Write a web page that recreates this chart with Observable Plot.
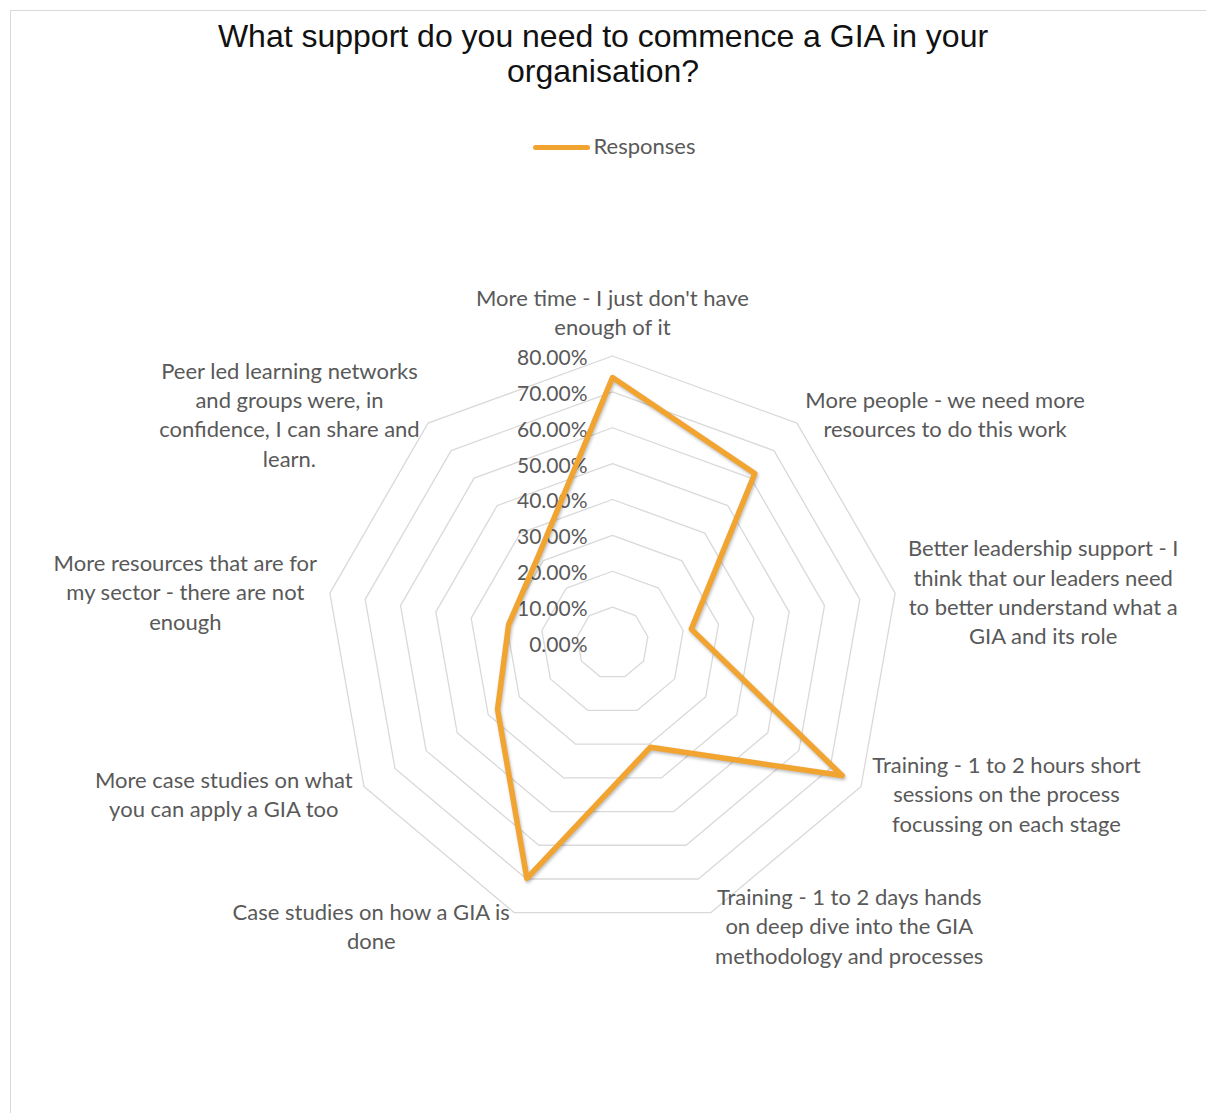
<!DOCTYPE html>
<html>
<head>
<meta charset="utf-8">
<script src="https://cdn.jsdelivr.net/npm/d3@7"></script>
<script src="https://cdn.jsdelivr.net/npm/@observablehq/plot@0.6"></script>
<style>
  body { margin: 0; background: #fff; }
  #wrap { position: relative; width: 1206px; height: 1113px; overflow: hidden; background: #fff; }
  #border { position: absolute; left: 10px; top: 10px; width: 1400px; height: 1400px; border: 1px solid #d9d9d9; box-sizing: border-box; pointer-events: none; }
  #head { position: relative; height: 170px; }
  #title { position: absolute; left: 0; top: 19px; width: 1206px; text-align: center; white-space: pre-line;
           font-family: "Liberation Sans", Arial, sans-serif; font-size: 32px; line-height: 35px; color: #111; }
  #legend { position: absolute; left: 11px; top: 131px; width: 1206px; text-align: center;
            font-family: Lato, sans-serif; font-size: 22px; line-height: 30px; color: #595959; }
  #legend .sw { display: inline-block; width: 57px; height: 5.5px; border-radius: 3px; vertical-align: middle; margin-right: 4px; position: relative; top: -1px; }
  #chart { position: relative; }
</style>
</head>
<body>
<div id="wrap">
  <div id="border"></div>
  <div id="head">
    <div id="title"></div>
    <div id="legend"></div>
  </div>
  <div id="chart"></div>
</div>
<script>
const titleText = "What support do you need to commence a GIA in your\norganisation?";
const seriesName = "Responses";
const categories = [
  "More time - I just don't have\nenough of it",
  "More people - we need more\nresources to do this work",
  "Better leadership support - I\nthink that our leaders need\nto better understand what a\nGIA and its role",
  "Training - 1 to 2 hours short\nsessions on the process\nfocussing on each stage",
  "Training - 1 to 2 days hands\non deep dive into the GIA\nmethodology and processes",
  "Case studies on how a GIA is\ndone",
  "More case studies on what\nyou can apply a GIA too",
  "More resources that are for\nmy sector - there are not\nenough",
  "Peer led learning networks\nand groups were, in\nconfidence, I can share and\nlearn."
];
const values = [0.74, 0.617, 0.223, 0.739, 0.309, 0.698, 0.37, 0.294, 0.32];
const ticks = [0, 0.1, 0.2, 0.3, 0.4, 0.5, 0.6, 0.7, 0.8];

const orange = "#F2A431";
const gridColor = "#d9d9d9";
const textColor = "#595959";

document.getElementById("title").textContent = titleText;
const leg = document.getElementById("legend");
const sw = document.createElement("span");
sw.className = "sw"; sw.style.background = orange;
leg.appendChild(sw);
leg.appendChild(document.createTextNode(seriesName));

const n = categories.length;
const idx = d3.range(n);
// clockwise angle from top -> longitude in rotated azimuthal projection
const lon = i => 180 - (360 / n) * i;
const lat = v => 90 - v;

const rings = ticks.filter(t => t > 0);
const gridData = rings.flatMap(r => idx.map(i => ({r, i})));

const labelR = 0.8 + 13 / 358.75;
const angle = i => (360 / n) * i;
const topIdx = idx.filter(i => angle(i) === 0);
const rightIdx = idx.filter(i => angle(i) > 0 && angle(i) < 180);
const leftIdx = idx.filter(i => angle(i) > 180);

const H = 943;
const mTop = 472.5 - 358.75;
const mBottom = H - mTop - 717.5;

const labelStyle = {fill: textColor, fontSize: 22, fontFamily: "Lato, sans-serif", lineHeight: 1.335};

const plot = Plot.plot({
  width: 1206,
  height: H,
  marginLeft: 18,
  marginRight: 0,
  marginTop: mTop,
  marginBottom: mBottom,
  projection: {
    type: "azimuthal-equidistant",
    rotate: [0, -90],
    domain: d3.geoCircle().center([0, 90]).radius(1).precision(1)()
  },
  marks: [
    Plot.line(gridData, {x: d => lon(d.i), y: d => lat(d.r), z: "r", curve: "linear-closed", stroke: gridColor, strokeWidth: 1.3}),
    Plot.text(ticks, {x: 180, y: d => lat(d), text: d => (d * 100).toFixed(2) + "%", textAnchor: "end", dx: -25, ...labelStyle, fontSize: 21}),
    Plot.line(idx, {x: i => lon(i), y: i => lat(values[i]), curve: "linear-closed", stroke: orange, strokeWidth: 5.5, strokeLinejoin: "round", className: "series"}),
    Plot.text(topIdx, {x: i => lon(i), y: () => lat(labelR), text: i => categories[i], textAnchor: "middle", lineAnchor: "bottom", dy: -8, ...labelStyle}),
    Plot.text(rightIdx, {x: i => lon(i), y: () => lat(labelR), text: i => categories[i], textAnchor: "start", lineAnchor: "middle", ...labelStyle, className: "lab-right"}),
    Plot.text(leftIdx, {x: i => lon(i), y: () => lat(labelR), text: i => categories[i], textAnchor: "end", lineAnchor: "middle", ...labelStyle, className: "lab-left"})
  ]
});
document.getElementById("chart").appendChild(plot);
d3.select(plot).selectAll(".series path").style("filter", "drop-shadow(1px 2px 1.5px rgba(0,0,0,0.25))");

// centre each line within its label block (block stays anchored at its outer edge)
for (const [cls, sign] of [["lab-right", 1], ["lab-left", -1]]) {
  d3.select(plot).selectAll(`.${cls} text`).each(function () {
    const spans = this.querySelectorAll("tspan");
    let maxW = 0;
    if (spans.length) spans.forEach(s => { maxW = Math.max(maxW, s.getComputedTextLength()); });
    else maxW = this.getComputedTextLength();
    const t = this.getAttribute("transform") || "";
    this.setAttribute("transform", `${t} translate(${sign * maxW / 2},0)`);
    this.setAttribute("text-anchor", "middle");
  });
}
</script>
</body>
</html>
